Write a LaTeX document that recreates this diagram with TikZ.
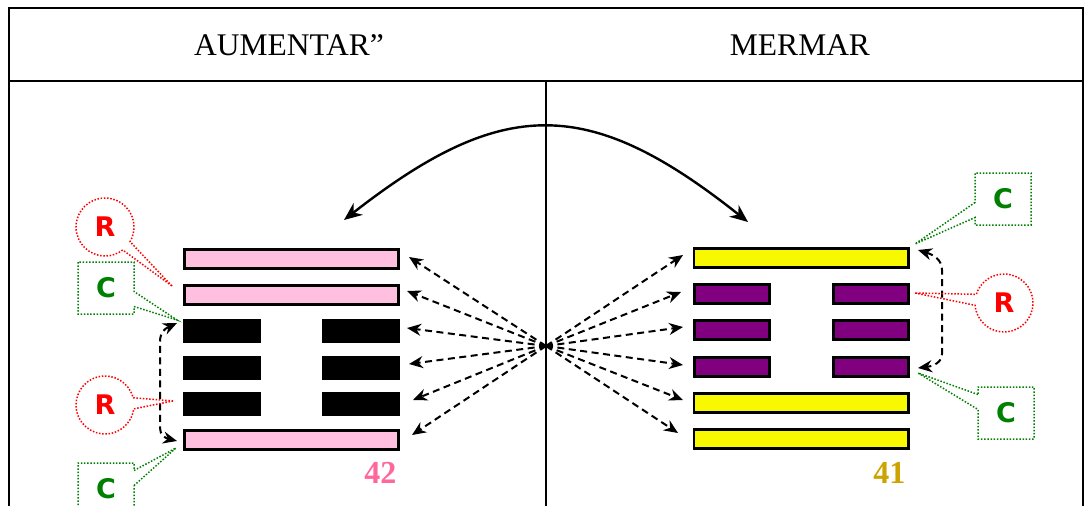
\documentclass[tikz,border=0pt]{standalone}
\usepackage{fontspec}
\setmainfont{Liberation Serif}
\newfontfamily\calloutfont{DejaVu Sans}
\usetikzlibrary{shapes.callouts,arrows.meta,calc}
\definecolor{barpink}{RGB}{255,192,224}
\definecolor{baryellow}{RGB}{248,248,0}
\definecolor{barpurple}{RGB}{128,0,128}
\definecolor{numpink}{RGB}{255,102,153}
\definecolor{numgold}{RGB}{204,163,0}
\definecolor{cgreen}{RGB}{0,128,0}
\tikzset{
  frameline/.style={line width=2pt},
  midline/.style={line width=1.4pt},
  yangbar/.style={draw=black, line width=2.6pt, minimum width=214.4pt, minimum height=19.4pt, inner sep=0pt},
  yinbar/.style={draw=black, line width=2.6pt, minimum width=75.4pt, minimum height=19.4pt, inner sep=0pt},
  headtext/.style={anchor=base, font=\fontsize{31.5}{31.5}\selectfont},
  numtext/.style={anchor=base east, font=\bfseries\fontsize{32}{32}\selectfont},
  dasharrow/.style={line width=2pt, dash pattern=on 7pt off 4.5pt, -{Stealth[length=14pt,width=12pt]}},
  bracketarrow/.style={line width=2pt, dash pattern=on 7pt off 4.5pt, {Stealth[length=14pt,width=12pt]}-{Stealth[length=14pt,width=12pt]}},
  swaparrow/.style={line width=2.4pt, {Stealth[length=18pt,width=15pt]}-{Stealth[length=18pt,width=15pt]}},
  rcall/.style={ellipse callout, draw=red, line width=1.5pt, dash pattern=on 1.5pt off 1.7pt,
    minimum width=58pt, minimum height=58pt, inner sep=0pt, text=red, callout pointer arc=22,
    font=\calloutfont\bfseries\fontsize{27}{27}\selectfont},
  ccall/.style={rectangle callout, draw=cgreen, line width=1.5pt, dash pattern=on 1.5pt off 1.7pt,
    minimum width=56pt, minimum height=52pt, inner sep=0pt, text=cgreen, callout pointer width=15pt,
    font=\calloutfont\bfseries\fontsize{27}{27}\selectfont},
}
\begin{document}
\begin{tikzpicture}[x=1pt,y=-1pt]
\clip (0,0) rectangle (1085,506);
\fill[white] (0,0) rectangle (1085,506);
% table frame
\draw[frameline] (9,515) -- (9,8) -- (1083,8) -- (1083,515);
\draw[frameline] (9,81) -- (1083,81);
\draw[midline] (546,81) -- (546,515);
\node[headtext] (hL) at (289,55) {AUMENTAR”};
\node[headtext] (hR) at (800,55) {MERMAR};
% left hexagram (42)
\node[yangbar, fill=barpink] (L1) at (291.5,259) {};
\node[yangbar, fill=barpink] (L2) at (291.5,295) {};
\node[yinbar, fill=black, minimum height=21.4pt] (L3a) at (222,331) {};
\node[yinbar, fill=black, minimum height=21.4pt] (L3b) at (361,331) {};
\node[yinbar, fill=black, minimum height=21.4pt] (L4a) at (222,368) {};
\node[yinbar, fill=black, minimum height=21.4pt] (L4b) at (361,368) {};
\node[yinbar, fill=black, minimum height=21.4pt] (L5a) at (222,404) {};
\node[yinbar, fill=black, minimum height=21.4pt] (L5b) at (361,404) {};
\node[yangbar, fill=barpink] (L6) at (291.5,440) {};
\node[numtext, text=numpink] (n42) at (400,483) {42};
% right hexagram (41)
\node[yangbar, fill=baryellow] (R1) at (801,258) {};
\node[yinbar, fill=barpurple] (R2a) at (732,294) {};
\node[yinbar, fill=barpurple] (R2b) at (871,294) {};
\node[yinbar, fill=barpurple] (R3a) at (732,330) {};
\node[yinbar, fill=barpurple] (R3b) at (871,330) {};
\node[yinbar, fill=barpurple] (R4a) at (732,367) {};
\node[yinbar, fill=barpurple] (R4b) at (871,367) {};
\node[yangbar, fill=baryellow] (R5) at (801,403) {};
\node[yangbar, fill=baryellow] (R6) at (801,439) {};
\node[numtext, text=numgold] (n41) at (909,483) {41};
% swap arrow
\coordinate (arcL) at (344,220);
\coordinate (arcR) at (748,222);
\draw[swaparrow] (arcL) .. controls (503,95.7) and (589,95.7) .. (arcR);
% dashed arrows from hub
\coordinate (hub) at (546,346);
\coordinate (tL1) at (409,257);
\coordinate (tL2) at (407,291);
\coordinate (tL3) at (407,328);
\coordinate (tL4) at (409,364);
\coordinate (tL5) at (413,400);
\coordinate (tL6) at (412,435);
\coordinate (tR1) at (683,255);
\coordinate (tR2) at (681,292);
\coordinate (tR3) at (683,327);
\coordinate (tR4) at (683,365);
\coordinate (tR5) at (683,400);
\coordinate (tR6) at (678,433);
\foreach \t in {tL1,tL2,tL3,tL4,tL5,tL6,tR1,tR2,tR3,tR4,tR5,tR6}
  \draw[dasharrow] (hub) -- (\t);
% brackets
\coordinate (lbT) at (177,323);
\coordinate (lbB) at (177,441);
\draw[bracketarrow] (lbT) .. controls (164,329) and (160,333) .. (160,342) -- (160,428) .. controls (160,435) and (165,438) .. (lbB);
\coordinate (rbT) at (918,250);
\coordinate (rbB) at (918,368);
\draw[bracketarrow] (rbT) .. controls (934,255) and (942,260) .. (942,270) -- (942,354) .. controls (942,362) and (934,366) .. (rbB);
% callouts
\node[rcall, callout absolute pointer={(172,286)}] (cRL1) at (105,227) {R};
\node[ccall, callout absolute pointer={(177,320)}] (cCL1) at (106,288) {C};
\node[rcall, callout absolute pointer={(173,401)}] (cRL2) at (105,405) {R};
\node[ccall, callout absolute pointer={(176,448)}] (cCL2) at (106,489) {C};
\node[ccall, callout absolute pointer={(915,244)}] (cCR1) at (1003,199) {C};
\node[rcall, callout absolute pointer={(915,293)}] (cRR) at (1004,303) {R};
\node[ccall, callout absolute pointer={(918,373)}] (cCR2) at (1006,413) {C};
\end{tikzpicture}
\end{document}
